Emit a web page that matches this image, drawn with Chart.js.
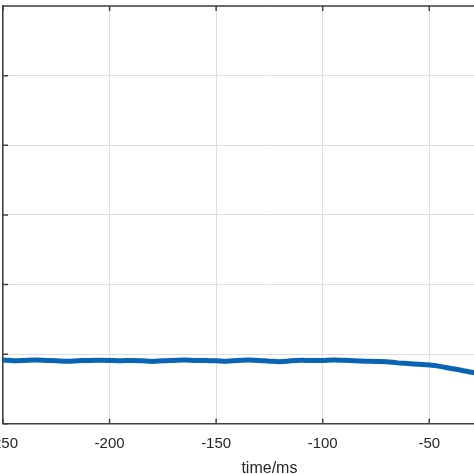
<!DOCTYPE html>
<html>
<head>
<meta charset="utf-8">
<script src="https://cdn.jsdelivr.net/npm/chart.js@4"></script>
<style>
  html, body { margin: 0; padding: 0; background: #fff; overflow: hidden; }
  #wrap { width: 574px; height: 474px; margin-left: -23px; }
</style>
</head>
<body>
<div id="wrap"><canvas id="chart"></canvas></div>
<script>
const times = [-250, -245, -240, -235, -230, -225, -220, -215, -210, -205,
  -200, -195, -190, -185, -180, -175, -170, -165, -160, -155,
  -150, -145, -140, -135, -130, -125, -120, -115, -110, -105,
  -100, -95, -90, -85, -80, -75, -70, -65, -60, -55,
  -50, -45, -40, -35, -30, -25, -20];
const signal = [0.915, 0.905, 0.91, 0.915, 0.91, 0.905, 0.9, 0.905, 0.91, 0.912,
  0.91, 0.905, 0.91, 0.905, 0.895, 0.905, 0.91, 0.915, 0.91, 0.908,
  0.905, 0.9, 0.91, 0.915, 0.91, 0.9, 0.892, 0.905, 0.912, 0.908,
  0.91, 0.918, 0.912, 0.905, 0.9, 0.895, 0.892, 0.875, 0.865, 0.855,
  0.845, 0.825, 0.795, 0.77, 0.74, 0.715, 0.69];
const xTicks = [-250, -200, -150, -100, -50, 0];
const yTicks = [0, 1, 2, 3, 4, 5, 6];

const axisColor = '#404040';

// matlab style box: top line + inward tick marks
const boxPlugin = {
  id: 'box',
  afterDraw(c) {
    const ctx = c.ctx, a = c.chartArea;
    const xs = c.scales.x, ys = c.scales.y;
    ctx.save();
    ctx.strokeStyle = axisColor;
    ctx.lineWidth = 1.5;
    ctx.beginPath();
    ctx.moveTo(a.left, a.top);
    ctx.lineTo(a.right, a.top);
    xTicks.forEach(v => {
      const px = xs.getPixelForValue(v);
      ctx.moveTo(px, a.bottom); ctx.lineTo(px, a.bottom - 5);
      ctx.moveTo(px, a.top); ctx.lineTo(px, a.top + 5);
    });
    yTicks.forEach(v => {
      const py = ys.getPixelForValue(v);
      ctx.moveTo(a.left, py); ctx.lineTo(a.left + 5, py);
    });
    ctx.stroke();
    ctx.restore();
  }
};

new Chart(document.querySelector('#chart'), {
  type: 'line',
  data: {
    datasets: [{
      data: times.map((t, i) => ({ x: t, y: signal[i] })),
      borderColor: '#0a64b4',
      borderWidth: 5,
      pointRadius: 0,
      tension: 0.3,
      fill: false
    }]
  },
  options: {
    responsive: true,
    maintainAspectRatio: false,
    animation: false,
    layout: { padding: { left: 2, top: 6, right: 2, bottom: 0 } },
    plugins: { legend: { display: false }, tooltip: { enabled: false } },
    scales: {
      x: {
        type: 'linear',
        min: -250,
        max: 0,
        afterBuildTicks: s => { s.ticks = xTicks.map(v => ({ value: v })); },
        grid: { color: '#dedede', lineWidth: 1, drawTicks: false },
        border: { color: axisColor, width: 1.5 },
        ticks: {
          color: '#262626',
          padding: 11,
          font: { family: 'Liberation Sans, Arial', size: 15 },
          callback: v => String(v)
        },
        title: {
          display: true,
          text: 'time/ms',
          color: '#262626',
          font: { family: 'Liberation Sans, Arial', size: 16 },
          padding: { top: -5, bottom: -4 }
        }
      },
      y: {
        min: 0,
        max: 6,
        afterBuildTicks: s => { s.ticks = yTicks.map(v => ({ value: v })); },
        grid: { color: '#dedede', lineWidth: 1, drawTicks: false },
        border: { color: axisColor, width: 1.5 },
        ticks: { display: false }
      }
    }
  },
  plugins: [boxPlugin]
});
</script>
</body>
</html>
